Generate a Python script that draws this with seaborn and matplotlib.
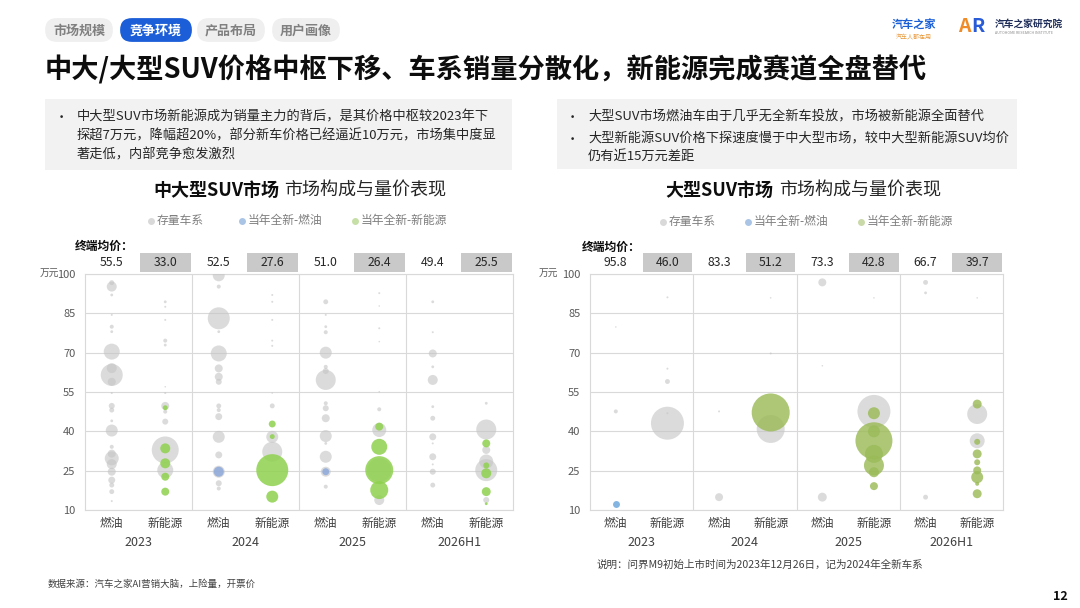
import pandas as pd
import matplotlib.pyplot as plt
import matplotlib.transforms as mtransforms
from matplotlib.patches import Rectangle, FancyBboxPatch
import seaborn as sns

# Setup
sns.set_theme(style="white")
plt.rcParams['font.family'] = ['Noto Sans CJK SC', 'DejaVu Sans']
plt.rcParams['axes.unicode_minus'] = False

# =======================
# 1. Data
# =======================
years = ['2023', '2024', '2025', '2026H1']
powertrains = ['燃油', '新能源']
kind_labels = {'S': '存量车系', 'F': '当年全新-燃油', 'N': '当年全新-新能源'}

# terminal average price per column (燃油 / 新能源 for each year)
mid_avg_price = [55.5, 33.0, 52.5, 27.6, 51.0, 26.4, 49.4, 25.5]
large_avg_price = [95.8, 46.0, 83.3, 51.2, 73.3, 42.8, 66.7, 39.7]

# bubbles, one inner list per column: price (万元), relative sales volume, kind code
mid_price = [
    [96.7, 95.2, 92, 84.4, 79.9, 78, 70.4, 64.1, 61.5, 58.9, 54.6, 49.7, 48.1, 44, 40.3, 34.1, 31.5, 29.7, 27.5, 24.6, 21.4, 19.5, 17, 13.4],
    [89.4, 87.5, 82.5, 74.6, 72.9, 57, 54.6, 49.7, 49.0, 47.5, 43.7, 32.9, 33.5, 25.2, 27.8, 22.7, 17],
    [99.5, 95.2, 83.1, 78, 69.7, 64, 60.8, 58.9, 49.7, 48.1, 45.6, 37.9, 31, 24.6, 24.6, 20.2, 18.2],
    [92, 89.4, 82.5, 74.6, 72.6, 54.6, 49.7, 42.8, 37.9, 38, 32.2, 25.2, 15.1],
    [89.4, 84.4, 79.9, 77.8, 70, 64.6, 63, 59.6, 50.7, 48.8, 45, 38.2, 35.4, 30.3, 24.6, 24.6, 18.9],
    [92.7, 87.8, 79.3, 74.2, 55.1, 48.4, 40.5, 41.8, 34.1, 25.2, 25.2, 17.6, 13.8],
    [89.4, 77.8, 69.7, 64.6, 59.6, 49.4, 45, 37.9, 35.4, 30.3, 27.4, 24.6, 19.5],
    [50.7, 40.7, 35.4, 32.9, 28.5, 25.2, 27, 24, 17, 13.8, 12.4],
]
mid_vol = [
    [6, 25, 2, 1, 4, 2, 64, 25, 121, 16, 1, 9, 6, 2, 36, 4, 16, 49, 25, 16, 12, 6, 6, 1],
    [2, 1, 1, 4, 2, 0.6, 1, 16, 6, 4, 9, 182, 25, 64, 25, 16, 16],
    [36, 4, 121, 2, 64, 16, 16, 9, 6, 4, 12, 36, 12, 36, 25, 9, 4],
    [1, 1, 1, 1, 1, 0.6, 6, 12, 36, 6, 100, 256, 36],
    [6, 1, 2, 4, 36, 4, 9, 100, 4, 9, 16, 36, 2, 36, 25, 12, 4],
    [1, 0.6, 1, 0.6, 0.6, 4, 49, 16, 64, 144, 196, 81, 25],
    [2, 1, 16, 2, 25, 2, 6, 12, 1, 12, 1, 9, 6],
    [2, 100, 16, 16, 49, 121, 9, 25, 20, 9, 2],
]
mid_kind = [
    'S' * 24,
    'SSSSSSSSNSSSNSNNN',
    'SSSSSSSSSSSSSSFSS',
    'SSSSSSSNSNSNN',
    'SSSSSSSSSSSSSSSFS',
    'SSSSSSSNNSNNS',
    'S' * 13,
    'SSNSSSNNNSN',
]

large_price = [
    [79.8, 47.6, 12.4],
    [91.1, 63.9, 59, 46.9, 43.1],
    [47.6, 14.9],
    [90.9, 69.7, 40.9, 47.2],
    [96.8, 65, 14.9],
    [90.9, 47.6, 46.9, 36.4, 40, 31.4, 27, 24.4, 19.1],
    [96.8, 92.8, 14.9],
    [90.9, 50.4, 46.6, 36.4, 36, 31.4, 28.2, 25.1, 22.5, 20, 16.2],
]
large_vol = [
    [0.6, 4, 12],
    [1, 1, 6, 1, 272],
    [1, 16],
    [0.6, 1, 196, 361],
    [16, 0.6, 20],
    [0.6, 272, 36, 342, 36, 81, 100, 25, 16],
    [6, 2, 6],
    [0.6, 20, 100, 56, 9, 20, 9, 16, 36, 4, 20],
]
large_kind = ['SSF', 'SSSSS', 'SS', 'SSSN', 'SSS', 'SSNNNNNNN', 'SSS', 'SNSSNNNNNNN']

V_MAX = 400
S_MAX = 829  # marker area (pt^2) for V_MAX

mid_colors = {'S': ('#c4c4c4', 0.6), 'F': ('#8eaadb', 0.85), 'N': ('#8fd14f', 0.85)}
large_colors = {'S': ('#c4c4c4', 0.6), 'F': ('#6fa8dc', 0.85), 'N': ('#9bbb59', 0.82)}
mid_legend_colors = ['#d9d9d9', '#a9c4e4', '#c6dfa6']
large_legend_colors = ['#d9d9d9', '#a9c4e4', '#c9d9a8']

grid_col = '#d9d9d9'

# =======================
# 2. Figure + background layer in pixel units
# =======================
fig = plt.figure(figsize=(10.8, 6.08), dpi=100)
bg = fig.add_axes([0, 0, 1, 1], zorder=0)
bg.set_xlim(0, 1080)
bg.set_ylim(608, 0)
bg.axis('off')


def pill(x0, x1, y0, y1, color):
    r = (y1 - y0) / 2
    bg.add_patch(FancyBboxPatch((x0 + r, y0 + r), x1 - x0 - 2 * r, 0.001,
                                boxstyle=f"round,pad={r - 0.1},rounding_size={r - 0.1}",
                                fc=color, ec='none'))


tabs = [('市场规模', 45, 113), ('竞争环境', 120, 192), ('产品布局', 197, 265), ('用户画像', 272, 340)]
for i, (name, x0, x1) in enumerate(tabs):
    active = i == 1
    pill(x0, x1, 18, 42, '#1b5ed8' if active else '#efefef')
    bg.text((x0 + x1) / 2, 30.5, name, ha='center', va='center', fontsize=9.4, fontweight='bold',
            color='white' if active else '#808080')

# logos
bg.text(914, 25, '汽车之家', ha='center', va='center', fontsize=8, fontweight='bold', color='#1a5fd6')
bg.text(914, 37, '汽车人都在用', ha='center', va='center', fontsize=4.3, color='#e89a3c')
bg.text(958, 26, 'A', ha='left', va='center', fontsize=14, fontweight='bold', color='#f08c28')
bg.text(971, 26, 'R', ha='left', va='center', fontsize=14, fontweight='bold', color='#2a5bd7')
bg.text(995, 24, '汽车之家研究院', ha='left', va='center', fontsize=7, fontweight='bold', color='#1f2d5a')
bg.text(995, 33, 'AUTOHOME RESEARCH INSTITUTE', ha='left', va='center', fontsize=2.6, color='#8a8a8a')

# headline
bg.text(45, 70, '中大/大型SUV价格中枢下移、车系销量分散化，新能源完成赛道全盘替代',
        ha='left', va='center', fontsize=19.6, fontweight='bold', color='#0d0d0d')

# summary boxes
bg.add_patch(Rectangle((45, 99), 467, 71, fc='#f2f2f2', ec='none'))
bg.add_patch(Rectangle((557, 99), 460, 70, fc='#f2f2f2', ec='none'))
left_lines = ['中大型SUV市场新能源成为销量主力的背后，是其价格中枢较2023年下',
              '探超7万元，降幅超20%，部分新车价格已经逼近10万元，市场集中度显',
              '著走低，内部竞争愈发激烈']
bg.text(55, 117, '•', ha='left', va='center', fontsize=9.5, color='#262626')
for y, line in zip([117, 136, 155], left_lines):
    bg.text(77, y, line, ha='left', va='center', fontsize=9.5, color='#262626')
right_lines = [(117, True, '大型SUV市场燃油车由于几乎无全新车投放，市场被新能源全面替代'),
               (139, True, '大型新能源SUV价格下探速度慢于中大型市场，较中大型新能源SUV均价'),
               (156, False, '仍有近15万元差距')]
for y, bullet, line in right_lines:
    if bullet:
        bg.text(566, y, '•', ha='left', va='center', fontsize=9.5, color='#262626')
    bg.text(588, y, line, ha='left', va='center', fontsize=9.5, color='#262626')

# =======================
# 3. Bubble panels
# =======================
ax_mid = fig.add_axes([85 / 1080, 1 - 510 / 608, 428 / 1080, 236 / 608], zorder=1)
ax_large = fig.add_axes([590 / 1080, 1 - 510 / 608, 413 / 1080, 236 / 608], zorder=1)


def draw_panel(ax, prices, vols, kinds, colors, avg_price):
    rows = []
    for c in range(8):
        assert len(prices[c]) == len(vols[c]) == len(kinds[c])
        for p, v, k in zip(prices[c], vols[c], kinds[c]):
            rows.append((c, p, v, k))
    df = pd.DataFrame(rows, columns=['col', 'price', 'vol', 'kind'])
    for k in ['S', 'F', 'N']:
        sub = df[df['kind'] == k].sort_values('vol', ascending=False)
        if sub.empty:
            continue
        sns.scatterplot(data=sub, x='col', y='price', size='vol', sizes=(0, S_MAX),
                        size_norm=(0, V_MAX), color=colors[k][0], alpha=colors[k][1],
                        linewidth=0, legend=False, ax=ax, zorder=3)

    ax.set_xlim(-0.5, 7.5)
    ax.set_ylim(10, 100)
    ax.set_yticks([10, 25, 40, 55, 70, 85, 100])
    ax.set_xticks(range(8))
    ax.set_xticklabels(powertrains * 4)
    ax.set_xlabel('')
    ax.set_ylabel('')
    ax.grid(axis='y', color=grid_col, lw=0.8)
    ax.set_axisbelow(True)
    for x in [1.5, 3.5, 5.5]:
        ax.axvline(x, color=grid_col, lw=0.8, zorder=1)
    for s in ax.spines.values():
        s.set_color(grid_col)
        s.set_linewidth(0.8)
    ax.tick_params(axis='y', length=0, labelsize=8, labelcolor='#595959', pad=7)
    ax.tick_params(axis='x', length=0, labelsize=8.5, labelcolor='#404040', pad=5)

    trans = mtransforms.blended_transform_factory(ax.transData, ax.transAxes)
    for i, yr in enumerate(years):
        ax.text(2 * i + 0.5, -0.136, yr, transform=trans, ha='center', va='center',
                fontsize=9, color='#404040')
    for i, v in enumerate(avg_price):
        if i % 2 == 1:
            ax.add_patch(Rectangle((i - 0.48, 1.008), 0.96, 0.081, transform=trans,
                                   fc='#c9c9c9', ec='none', clip_on=False))
        ax.text(i, 1.049, f'{v:.1f}', transform=trans, ha='center', va='center',
                fontsize=8.8, color='#262626')


draw_panel(ax_mid, mid_price, mid_vol, mid_kind, mid_colors, mid_avg_price)
draw_panel(ax_large, large_price, large_vol, large_kind, large_colors, large_avg_price)

# panel titles, legends and labels
bg.text(279, 190, '中大型SUV市场', ha='right', va='center', fontsize=13, fontweight='bold', color='#0d0d0d')
bg.text(284, 190, '市场构成与量价表现', ha='left', va='center', fontsize=13, color='#262626')
bg.text(773, 190, '大型SUV市场', ha='right', va='center', fontsize=13, fontweight='bold', color='#0d0d0d')
bg.text(779, 190, '市场构成与量价表现', ha='left', va='center', fontsize=13, color='#262626')

labels = [kind_labels[k] for k in ['S', 'F', 'N']]
for xs, y, cols in [([151, 242, 355], 221, mid_legend_colors), ([663, 748, 861], 222, large_legend_colors)]:
    for x, lab, c in zip(xs, labels, cols):
        bg.plot([x], [y], marker='o', ms=5, color=c, mec='none')
        bg.text(x + 6, y - 0.5, lab, ha='left', va='center', fontsize=8.5, color='#7f7f7f')

bg.text(75, 246, '终端均价：', ha='left', va='center', fontsize=8.5, fontweight='bold', color='#0d0d0d')
bg.text(582, 247, '终端均价：', ha='left', va='center', fontsize=8.5, fontweight='bold', color='#0d0d0d')
bg.text(59, 273, '万元', ha='right', va='center', fontsize=7, color='#595959')
bg.text(558, 273, '万元', ha='right', va='center', fontsize=7, color='#595959')

bg.text(48, 584, '数据来源：汽车之家AI营销大脑，上险量，开票价', ha='left', va='center',
        fontsize=6.8, color='#404040')
bg.text(597, 565, '说明：问界M9初始上市时间为2023年12月26日，记为2024年全新车系', ha='left',
        va='center', fontsize=7.6, style='italic', color='#404040')
bg.text(1060, 597, '12', ha='center', va='center', fontsize=9, fontweight='bold', color='#0d0d0d')

fig.savefig('out.png', dpi=100)
